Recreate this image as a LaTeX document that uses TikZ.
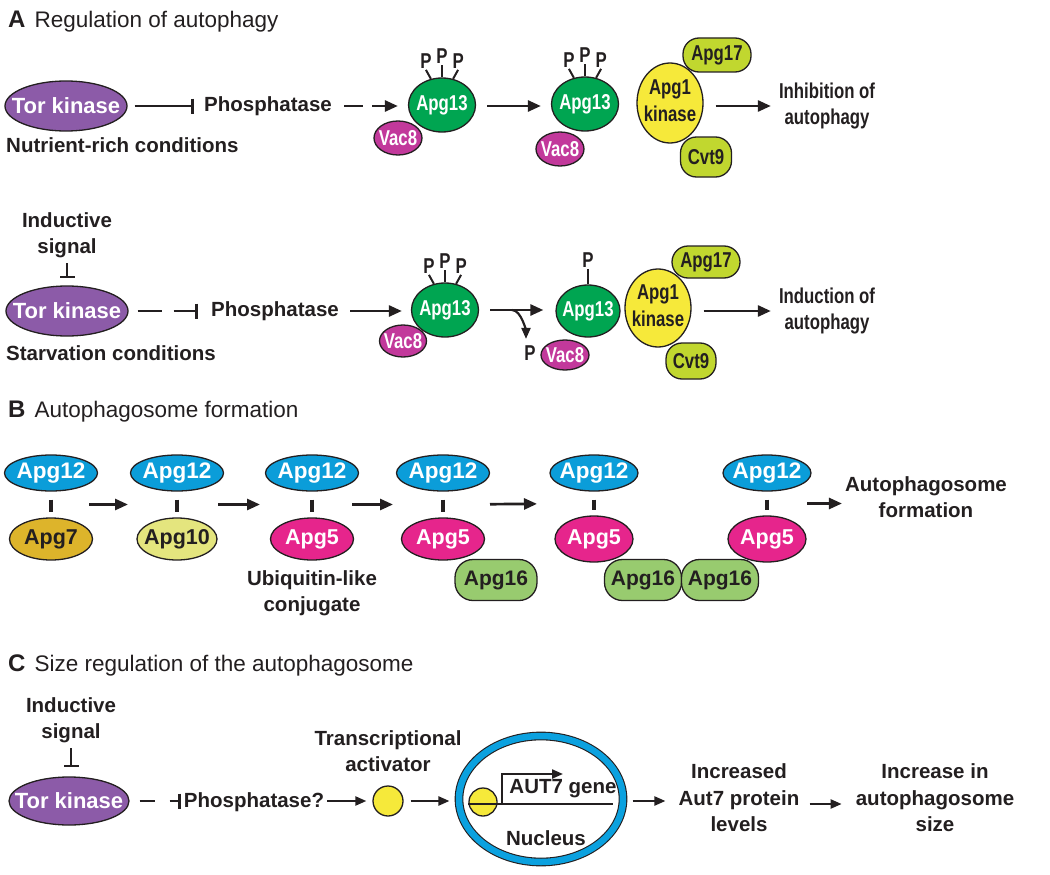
\documentclass[tikz,border=0pt]{standalone}
\usepackage{fontspec}
\setmainfont{Liberation Sans}
\newfontfamily\narrowfont[FakeStretch=0.78]{Liberation Sans}
\usetikzlibrary{shapes.geometric,arrows.meta}

\definecolor{ink}{HTML}{231F20}
\definecolor{torpurple}{HTML}{8C5BA8}
\definecolor{apggreen}{HTML}{00A551}
\definecolor{vacpink}{HTML}{C2399B}
\definecolor{kinyellow}{HTML}{F6E93A}
\definecolor{limegreen}{HTML}{C1D72F}
\definecolor{apgblue}{HTML}{0B9DD9}
\definecolor{apggold}{HTML}{DDB42B}
\definecolor{apgpale}{HTML}{E4E57E}
\definecolor{apgmagenta}{HTML}{E6258C}
\definecolor{apgleaf}{HTML}{98CB6F}
\definecolor{nucblue}{HTML}{0BA1DF}

\newcommand{\mol}[1]{\makebox[0pt]{#1}}
\newcommand{\twoline}[2]{\makebox[0pt]{\begin{tabular}{@{}c@{}}#1\\#2\end{tabular}}}

\begin{document}
\begin{tikzpicture}[x=1pt,y=-1pt,
  head/.style={anchor=west,inner sep=0pt,text=ink,font=\fontsize{22.5}{25}\selectfont},
  txt/.style={font=\bfseries\fontsize{20.5}{26.5}\selectfont,text=ink,align=center,inner sep=1pt},
  ntxt/.style={font=\narrowfont\bfseries\fontsize{21.5}{26.5}\selectfont,text=ink,align=center,inner sep=1pt},
  ptxt/.style={ntxt,inner sep=0.5pt},
  prot/.style={ellipse,draw=ink,line width=1.3pt,inner sep=0pt},
  pill/.style={rectangle,rounded corners=16pt,draw=ink,line width=1.3pt,inner sep=0pt,
    text=ink,font=\narrowfont\bfseries\fontsize{21.5}{24}\selectfont},
  tor/.style={prot,fill=torpurple,text=white,minimum width=122,minimum height=50,
    font=\bfseries\fontsize{22}{24}\selectfont},
  grn/.style={prot,fill=apggreen,text=white,minimum width=67,minimum height=54,
    font=\narrowfont\bfseries\fontsize{21.5}{24}\selectfont},
  vac/.style={prot,fill=vacpink,text=white,minimum width=48,minimum height=34,
    font=\narrowfont\bfseries\fontsize{21.5}{24}\selectfont},
  yel/.style={prot,fill=kinyellow,text=ink,minimum width=66,minimum height=80,
    font=\narrowfont\bfseries\fontsize{21.5}{27}\selectfont},
  lime/.style={pill,fill=limegreen,minimum width=68,minimum height=34},
  bprot/.style={prot,minimum width=83,minimum height=42,font=\bfseries\fontsize{21.5}{24}\selectfont},
  blu/.style={bprot,fill=apgblue,text=white,minimum width=93,minimum height=36,
    font=\bfseries\fontsize{22.5}{24}\selectfont},
  leaf/.style={pill,fill=apgleaf,minimum width=78,minimum height=41,rounded corners=18pt,
    font=\bfseries\fontsize{21}{24}\selectfont},
  arr/.style={draw=ink,line width=2.7pt,-{Triangle[length=13pt,width=11pt]}},
  arrs/.style={draw=ink,line width=2.2pt,-{Triangle[length=11pt,width=9pt]}},
  inh/.style={draw=ink,line width=2.7pt,-{Bar[width=15pt]}},
  tick/.style={draw=ink,line width=2pt},
  link/.style={draw=ink,line width=3.5pt,shorten <=8,shorten >=5}]
\useasboundingbox (0,0) rectangle (1050,875);

\node[head] (ta) at (8,22) {{\bfseries\fontsize{24}{25}\selectfont A}\hspace{0.4em}Regulation of autophagy};

\node[tor] (tor1) at (66,106) {\mol{Tor kinase}};
\node[txt,anchor=west] (cond1) at (5,145) {Nutrient-rich conditions};
\node[txt] (phos1) at (268,106) {Phosphatase};
\draw[inh,shorten <=7,shorten >=9] (tor1.east) -- (phos1.west);
\node[grn] (a13a) at (442,105) {\mol{Apg13}};
\node[vac] (v8a) at (398,138) {\mol{Vac8}};
\draw[arr,dash pattern=on 19pt off 9pt on 60pt,shorten <=11,shorten >=10] (phos1.east) -- (phos1.east -| a13a.west);
\draw[tick] (a13a.113) -- +(-5,-9) node[ptxt,anchor=south] (pa1) {P};
\draw[tick] (a13a.north) -- +(0,-12) node[ptxt,anchor=south] (pa2) {P};
\draw[tick] (a13a.67) -- +(5,-9) node[ptxt,anchor=south] (pa3) {P};
\node[grn] (a13b) at (585,104) {\mol{Apg13}};
\node[vac] (v8b) at (560,149) {\mol{Vac8}};
\draw[arr,shorten <=11,shorten >=10] (a13a.east |- phos1.east) -- (a13b.west |- phos1.east);
\draw[tick] (a13b.113) -- +(-5,-9) node[ptxt,anchor=south] (pb1) {P};
\draw[tick] (a13b.north) -- +(0,-12) node[ptxt,anchor=south] (pb2) {P};
\draw[tick] (a13b.67) -- +(5,-9) node[ptxt,anchor=south] (pb3) {P};
\node[lime] (g17a) at (717,55) {Apg17};
\node[lime,minimum width=51,minimum height=40] (c9a) at (706,157) {Cvt9};
\node[yel] (k1a) at (670,103) {\twoline{Apg1}{kinase}};
\node[ntxt] (inhib) at (827,106) {Inhibition of\\autophagy};
\draw[arr,shorten <=12,shorten >=7] (k1a.east |- inhib.west) -- (inhib.west);

\node[txt] (sig1) at (67,235) {Inductive\\signal};
\node[tor] (tor2) at (67,311) {\mol{Tor kinase}};
\draw[inh,shorten <=4,shorten >=7] (sig1.south) -- (tor2.north);
\node[txt,anchor=west] (cond2) at (5,353) {Starvation conditions};
\node[txt] (phos2) at (275,311) {Phosphatase};
\draw[inh,dash pattern=on 24pt off 12pt on 60pt,shorten <=9,shorten >=12] (tor2.east) -- (phos2.west);
\node[grn] (a13c) at (445,310) {\mol{Apg13}};
\node[vac,minimum width=47,minimum height=32] (v8c) at (403,341) {\mol{Vac8}};
\draw[arr,shorten <=10,shorten >=9] (phos2.east) -- (phos2.east -| a13c.west);
\draw[tick] (a13c.113) -- +(-5,-9) node[ptxt,anchor=south] (pc1) {P};
\draw[tick] (a13c.north) -- +(0,-12) node[ptxt,anchor=south] (pc2) {P};
\draw[tick] (a13c.67) -- +(5,-9) node[ptxt,anchor=south] (pc3) {P};
\node[lime,minimum height=32] (g17b) at (706,262) {Apg17};
\node[lime,minimum width=50,minimum height=36] (c9b) at (691,361) {Cvt9};
\node[grn,minimum width=64,minimum height=52] (a13d) at (588,311) {\mol{Apg13}};
\node[vac,minimum width=48,minimum height=30] (v8d) at (565,355) {\mol{Vac8}};
\draw[tick] (a13d.north) -- +(0,-15) node[ptxt,anchor=south] (pd1) {P};
\node[yel,minimum height=78] (k1b) at (658,308) {\twoline{Apg1}{kinase}};
\draw[arr,shorten <=11,shorten >=12] (a13c.east) -- coordinate[pos=0.43] (rel) (a13c.east -| a13d.west);
\node[ptxt] (pfree) at (530,353) {P};
\draw[arrs,shorten >=6] (rel) .. controls +(10,0) and +(0,-12) .. ([xshift=-4]pfree.north);
\node[ntxt] (induc) at (827,311) {Induction of\\autophagy};
\draw[arr,shorten <=12,shorten >=7] (k1b.east |- induc.west) -- (induc.west);

\node[head] (tb) at (8,412) {{\bfseries\fontsize{24}{25}\selectfont B}\hspace{0.4em}Autophagosome formation};
\node[blu] (b12a) at (51,473) {\mol{Apg12}};
\node[bprot,fill=apggold,text=ink] (b7) at (51,539) {\mol{Apg7}};
\draw[link] (b12a.south) -- coordinate (k1) (b7.north);
\node[blu] (b12b) at (177,473) {\mol{Apg12}};
\node[bprot,fill=apgpale,text=ink,minimum width=80] (b10) at (177,539) {\mol{Apg10}};
\draw[link] (b12b.south) -- coordinate (k2) (b10.north);
\node[blu] (b12c) at (312,473) {\mol{Apg12}};
\node[bprot,fill=apgmagenta,text=white] (b5c) at (312,539) {\mol{Apg5}};
\draw[link] (b12c.south) -- coordinate (k3) (b5c.north);
\node[txt] (ubl) at (312,593) {Ubiquitin-like\\conjugate};
\node[leaf,minimum width=82] (p16a) at (496,580) {Apg16};
\node[blu] (b12d) at (443,473) {\mol{Apg12}};
\node[bprot,fill=apgmagenta,text=white] (b5d) at (443,539) {\mol{Apg5}};
\draw[link] (b12d.south) -- coordinate (k4) (b5d.north);
\node[leaf,minimum width=77] (p16b) at (643,580) {Apg16};
\node[leaf,minimum width=77] (p16c) at (720,580) {Apg16};
\node[blu,minimum width=88] (b12e) at (594,473) {\mol{Apg12}};
\node[bprot,fill=apgmagenta,text=white,minimum width=78,minimum height=46] (b5e) at (594,539) {\mol{Apg5}};
\draw[link] (b12e.south) -- coordinate (k5) (b5e.north);
\node[blu,minimum width=88] (b12f) at (767,473) {\mol{Apg12}};
\node[bprot,fill=apgmagenta,text=white,minimum width=78,minimum height=46] (b5f) at (767,539) {\mol{Apg5}};
\draw[link] (b12f.south) -- coordinate (k6) (b5f.north);
\node[txt] (auto) at (926,497) {Autophagosome\\formation};
\draw[arr,shorten <=38,shorten >=49] (k1) -- (k2);
\draw[arr,shorten <=41,shorten >=52] (k2) -- (k3);
\draw[arr,shorten <=40,shorten >=50] (k3) -- (k4);
\draw[arr,shorten <=47,shorten >=57] (k4) -- (k5);
\draw[arr,shorten <=40,shorten >=2] (k6) -- (auto.west |- k6);

\node[head] (tc) at (8,665) {{\bfseries\fontsize{24}{25}\selectfont C}\hspace{0.4em}Size regulation of the autophagosome};
\node[txt] (sig3) at (71,720) {Inductive\\signal};
\node[tor,minimum width=120,minimum height=48] (tor3) at (69,801) {\mol{Tor kinase}};
\draw[inh,shorten <=4,shorten >=9] (sig3.south) -- (sig3.south |- tor3.north);
\node[txt] (phos3) at (254,802) {Phosphatase?};
\draw[inh,line width=2.4pt,dash pattern=on 15pt off 15pt on 40pt,shorten <=10,shorten >=2] (tor3.east) -- (tor3.east -| phos3.west);
\node[circle,draw=ink,line width=1.3pt,fill=kinyellow,minimum size=30,inner sep=0pt] (tf) at (388,801) {};
\node[txt] (tfl) at (388,751) {Transcriptional\\activator};
\draw[arrs,shorten <=2,shorten >=6] (phos3.east |- tf.west) -- (tf.west);
\node[ellipse,draw=ink,line width=1.1pt,double=nucblue,double distance=6.5pt,minimum width=164,minimum height=126,inner sep=0pt] (nuc) at (541,799) {};
\draw[arrs,shorten <=7,shorten >=9] (tf.east) -- (tf.east -| nuc.west);
\node[circle,draw=ink,line width=1.3pt,fill=kinyellow,minimum size=28,inner sep=0pt] (act) at (483,802) {};
\coordinate (gs) at (468,804);
\coordinate (ge) at (613,804);
\coordinate (tss) at (502,804);
\coordinate (tse) at (563,774);
\draw[ink,line width=2.5pt] (gs) -- (ge);
\draw[arrs] (tss) |- (tse);
\node[txt] (gene) at (563,789) {AUT7 gene};
\node[txt] (nucl) at (546,838) {Nucleus};
\node[txt] (incr) at (739,798) {Increased\\Aut7 protein\\levels};
\draw[arrs,shorten <=9,shorten >=12] (nuc.east |- tf.east) -- (incr.west |- tf.east);
\node[txt] (gsize) at (935,798) {Increase in\\autophagosome\\size};
\draw[arrs,shorten <=9,shorten >=13] (incr.east |- ge) -- (gsize.west |- ge);
\end{tikzpicture}
\end{document}
